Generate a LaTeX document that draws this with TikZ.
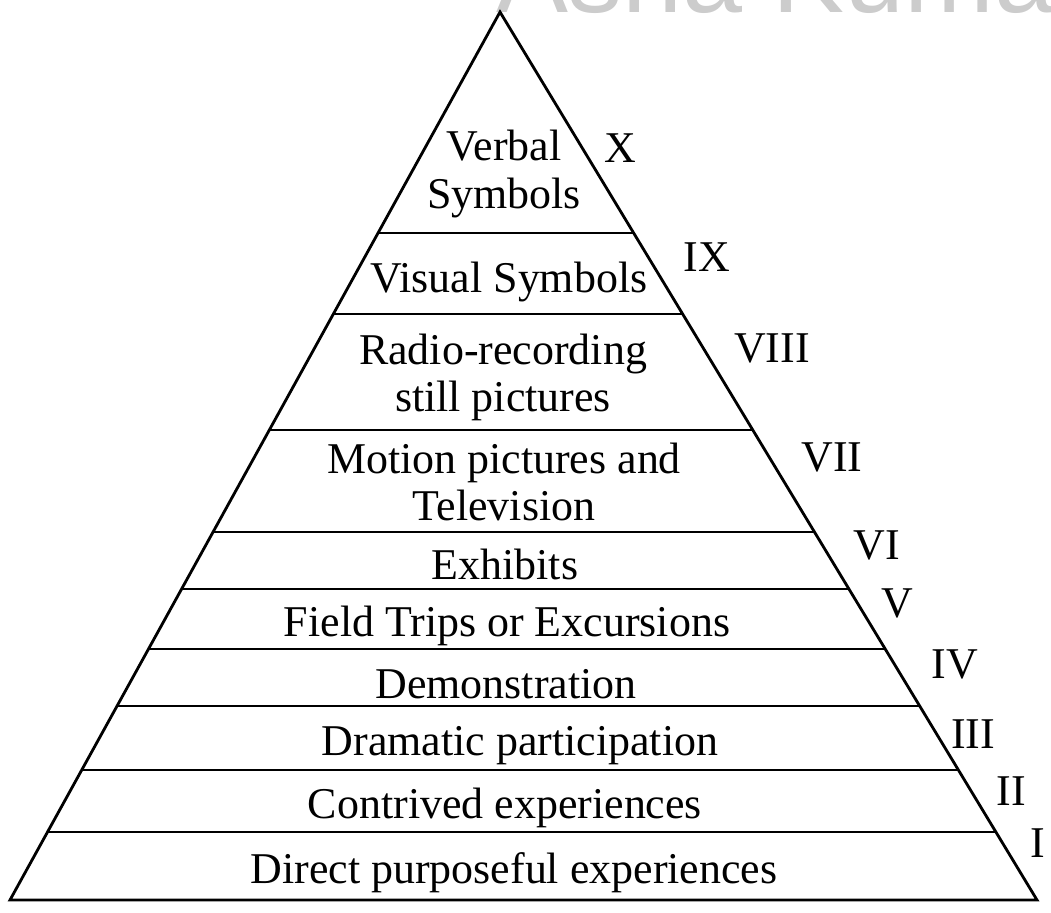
\documentclass[tikz,border=0pt]{standalone}
\usepackage{fontspec}
\setmainfont{Liberation Serif}
\newfontfamily\markfont{Liberation Sans}
\begin{document}
\begin{tikzpicture}[thick,
    tier/.style={font=\fontsize{12.5}{13.4}\selectfont, align=center, inner sep=0pt, anchor=base},
    numeral/.style={font=\fontsize{12.5}{13.4}\selectfont, inner sep=0pt, anchor=base}]
    \useasboundingbox (0,0) rectangle (10.51,9.12);
    \node[anchor=base west, inner sep=0pt, text=black!20, font=\markfont\fontsize{30.7}{32}\selectfont] (mark) at (4.95,8.99) {Asha Kumar};
    \coordinate (A) at (5.00,9.00);
    \coordinate (L) at (0.10,0.12);
    \coordinate (R) at (10.37,0.12);
    \draw (L) -- (R) -- (A) -- cycle;
    \draw (0.48,0.80) -- (9.96,0.80);
    \draw (0.82,1.42) -- (9.58,1.42);
    \draw (1.17,2.06) -- (9.20,2.06);
    \draw (1.49,2.63) -- (8.85,2.63);
    \draw (1.82,3.23) -- (8.49,3.23);
    \draw (2.13,3.80) -- (8.15,3.80);
    \draw (2.69,4.82) -- (7.53,4.82);
    \draw (3.33,5.98) -- (6.83,5.98);
    \draw (3.78,6.79) -- (6.34,6.79);
    \node[tier, anchor=center] (verbal) at (5.04,7.38) {Verbal\\Symbols};
    \node[tier] (visual) at (5.09,6.19) {Visual Symbols};
    \node[tier, anchor=center] (radio) at (5.03,5.35) {Radio-recording\\still pictures};
    \node[tier, anchor=center] (motion) at (5.04,4.30) {Motion pictures and\\Television};
    \node[tier] (exhibits) at (5.05,3.32) {Exhibits};
    \node[tier] (field) at (5.07,2.75) {Field Trips or Excursions};
    \node[tier] (demo) at (5.06,2.14) {Demonstration};
    \node[tier] (drama) at (5.20,1.57) {Dramatic participation};
    \node[tier] (contrived) at (5.05,0.94) {Contrived experiences};
    \node[tier] (direct) at (5.14,0.29) {Direct purposeful experiences};
    \node[numeral] (n10) at (6.20,7.49) {X};
    \node[numeral] (n9) at (7.07,6.40) {IX};
    \node[numeral] (n8) at (7.72,5.49) {VIII};
    \node[numeral] (n7) at (8.32,4.40) {VII};
    \node[numeral] (n6) at (8.77,3.52) {VI};
    \node[numeral] (n5) at (8.97,2.95) {V};
    \node[numeral] (n4) at (9.55,2.34) {IV};
    \node[numeral] (n3) at (9.73,1.64) {III};
    \node[numeral] (n2) at (10.11,1.07) {II};
    \node[numeral] (n1) at (10.38,0.55) {I};
\end{tikzpicture}
\end{document}
